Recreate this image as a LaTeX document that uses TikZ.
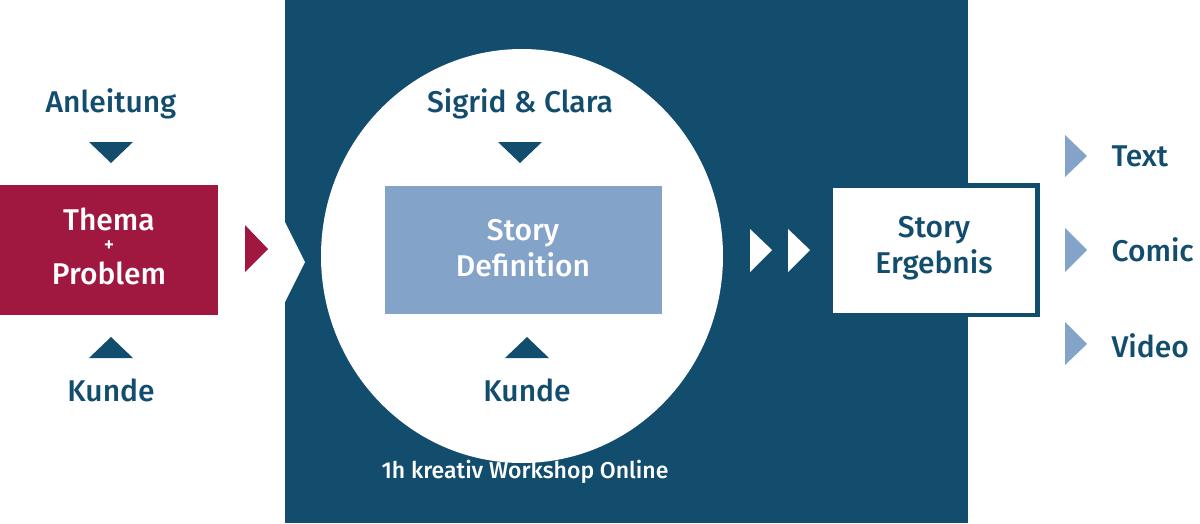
\documentclass[tikz,border=0pt]{standalone}
\usepackage{fontspec}
\setmainfont{Fira Sans}[UprightFont=* Medium]
\definecolor{dblue}{HTML}{124D6E}
\definecolor{lblue}{HTML}{84A3C8}
\definecolor{wred}{HTML}{A0173F}
\begin{document}
\begin{tikzpicture}[x=1pt,y=-1pt,
  lab/.style={font=\fontsize{30}{36}\selectfont,text=dblue,align=center},
  wlab/.style={font=\fontsize{30}{36}\selectfont,text=white,align=center}]
\useasboundingbox (0,0) rectangle (1200,523);
\fill[dblue] (285,0) rectangle (968,523);
\fill[white] (285,222) -- (305,262) -- (285,302) -- cycle;
\fill[white] (522,256) ellipse (201 and 207);
% left
\fill[wred] (0,185) rectangle (218,315);
\node[wlab] (th) at (109,219) {Thema};
\node[text=white,font=\fontsize{20}{20}\selectfont] (pl) at (109,246) {+};
\node[wlab] (pr) at (109,273) {Problem};
\node[lab] (anl) at (111,104) {Anleitung};
\fill[dblue] (89,142) -- (133,142) -- (111,163) -- cycle;
\node[lab] (k1) at (111,390) {Kunde};
\fill[dblue] (89,358) -- (133,358) -- (111,337) -- cycle;
\fill[wred] (245,225) -- (268,249) -- (245,272) -- cycle;
% circle
\fill[lblue] (385,186) rectangle (662,314);
\node[wlab] (sd) at (523,248) {Story\\Definition};
\node[lab] (sc) at (520,104) {Sigrid \& Clara};
\fill[dblue] (498,142) -- (542,142) -- (520,163) -- cycle;
\node[lab] (k2) at (527,390) {Kunde};
\fill[dblue] (505,358) -- (549,358) -- (527,337) -- cycle;
\node[font=\fontsize{23}{27}\selectfont,text=white] (ws) at (525,472) {1h kreativ Workshop Online};
\fill[white] (750,229) -- (772,250) -- (750,272) -- cycle;
\fill[white] (788,229) -- (810,250) -- (788,272) -- cycle;
% result
\fill[dblue] (833,183) rectangle (1040,317);
\fill[white] (833,188) rectangle (1035,313);
\node[lab] (se) at (934,248) {Story\\Ergebnis};
% outputs
\fill[lblue] (1065,135) -- (1087,156) -- (1065,177) -- cycle;
\fill[lblue] (1065,228) -- (1087,250) -- (1065,272) -- cycle;
\fill[lblue] (1065,322) -- (1087,344) -- (1065,365) -- cycle;
\node[lab,anchor=west] (t1) at (1108,156) {Text};
\node[lab,anchor=west] (t2) at (1108,250) {Comic};
\node[lab,anchor=west] (t3) at (1108,346) {Video};
\end{tikzpicture}
\end{document}
